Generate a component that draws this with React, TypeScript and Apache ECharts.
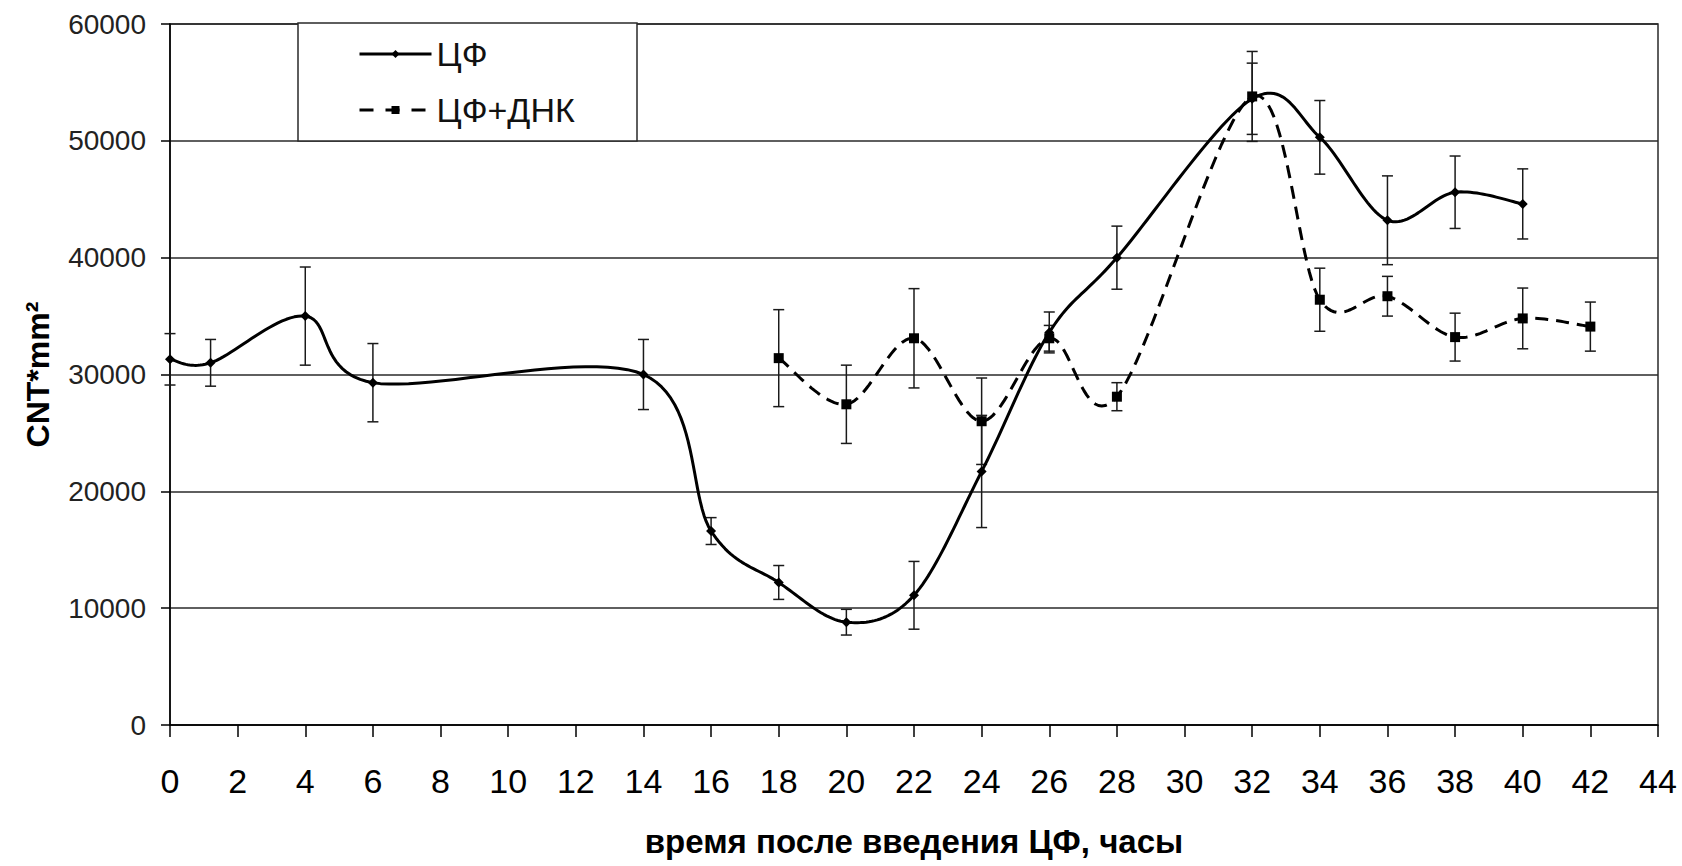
import React, { useEffect, useRef } from "react";
import * as echarts from "echarts";

// ---- Data ----
const hoursCF = [0, 1.2, 4, 6, 14, 16, 18, 20, 22, 24, 26, 28, 32, 34, 36, 38, 40];
const valuesCF = [31300, 31000, 35000, 29300, 30000, 16600, 12200, 8800, 11100, 21700, 33600, 40000, 53600, 50300, 43200, 45600, 44600];
const errorsCF = [2200, 2000, 4200, 3350, 3000, 1150, 1450, 1100, 2900, 4800, 1750, 2700, 3050, 3150, 3800, 3100, 3000];

const hoursDNK = [18, 20, 22, 24, 26, 28, 32, 34, 36, 38, 40, 42];
const valuesDNK = [31400, 27450, 33100, 26000, 33100, 28100, 53800, 36400, 36700, 33200, 34800, 34100];
const errorsDNK = [4150, 3350, 4250, 3700, 1100, 1200, 3850, 2700, 1700, 2050, 2600, 2100];

const seriesNames = ["ЦФ", "ЦФ+ДНК"];
const xTitle = "время после введения ЦФ, часы";
const yTitle = "CNT*mm²";

const FONT = "'Liberation Sans', Arial, sans-serif";
const DASH = [13, 8];

function errorBarSeries(name: string, hours: number[], values: number[], errors: number[]) {
  return {
    name,
    type: "custom",
    silent: true,
    z: 1,
    data: hours.map((h, i) => [h, values[i] - errors[i], values[i] + errors[i]]),
    encode: { x: 0, y: [1, 2] },
    renderItem: (_params: any, api: any) => {
      const x = api.value(0);
      const lo = api.coord([x, api.value(1)]);
      const hi = api.coord([x, api.value(2)]);
      const w = 5.5;
      const style = { stroke: "#1a1a1a", lineWidth: 1.5 };
      return {
        type: "group",
        children: [
          { type: "line", shape: { x1: lo[0], y1: lo[1], x2: hi[0], y2: hi[1] }, style },
          { type: "line", shape: { x1: lo[0] - w, y1: lo[1], x2: lo[0] + w, y2: lo[1] }, style },
          { type: "line", shape: { x1: hi[0] - w, y1: hi[1], x2: hi[0] + w, y2: hi[1] }, style },
        ],
      };
    },
  };
}

// Spreadsheet-style smoothed line (Catmull-Rom Bezier through the data points,
// positions taken from the axes via api.coord)
function curveSeries(name: string, hours: number[], values: number[], dash: number[] | null) {
  return {
    name,
    type: "custom",
    silent: true,
    z: 3,
    data: hours.map((h, i) => [h, values[i]]),
    encode: { x: 0, y: 1 },
    renderItem: (params: any, api: any) => {
      if (params.dataIndex !== 0) return null;
      const pts = hours.map((h, i) => api.coord([h, values[i]]));
      const n = pts.length;
      const out: number[][] = [];
      for (let i = 0; i < n - 1; i++) {
        const p0 = pts[i - 1] || pts[i];
        const p1 = pts[i];
        const p2 = pts[i + 1];
        const p3 = pts[i + 2] || pts[i + 1];
        const c1 = [p1[0] + (p2[0] - p0[0]) / 6, p1[1] + (p2[1] - p0[1]) / 6];
        const c2 = [p2[0] - (p3[0] - p1[0]) / 6, p2[1] - (p3[1] - p1[1]) / 6];
        const steps = 24;
        for (let s = i === 0 ? 0 : 1; s <= steps; s++) {
          const t = s / steps;
          const u = 1 - t;
          const x = u * u * u * p1[0] + 3 * u * u * t * c1[0] + 3 * u * t * t * c2[0] + t * t * t * p2[0];
          const y = u * u * u * p1[1] + 3 * u * u * t * c1[1] + 3 * u * t * t * c2[1] + t * t * t * p2[1];
          out.push([x, y]);
        }
      }
      return {
        type: "polyline",
        shape: { points: out },
        style: { stroke: "#000", lineWidth: 3, fill: "none", lineDash: dash || undefined, lineJoin: "round" },
      };
    },
  };
}

export default function App() {
  const ref = useRef<HTMLDivElement>(null);

  useEffect(() => {
    const chart = echarts.init(ref.current!, null, { renderer: "svg" });
    chart.setOption({
      animation: false,
      backgroundColor: "#ffffff",
      textStyle: { fontFamily: FONT },
      grid: {
        left: 170,
        right: 24,
        top: 24,
        bottom: 141,
        containLabel: false,
        outerBoundsMode: "none",
        show: true,
        borderColor: "#2a2a2a",
        borderWidth: 1.5,
        backgroundColor: "transparent",
      },
      graphic: [
        {
          type: "rect",
          z: 5,
          shape: { x: 298, y: 23, width: 339, height: 118 },
          style: { fill: "#ffffff", stroke: "#2a2a2a", lineWidth: 1.5 },
        },
      ],
      legend: {
        data: [
          { name: seriesNames[0], lineStyle: { color: "#000", width: 3, opacity: 1, type: "solid" } },
          { name: seriesNames[1], lineStyle: { color: "#000", width: 3, opacity: 1, type: [14, 12] } },
        ],
        orient: "vertical",
        left: 358,
        top: 37,
        itemWidth: 72,
        itemHeight: 10,
        itemGap: 22,
        padding: 0,
        z: 10,
        textStyle: { fontSize: 34, color: "#111", fontFamily: FONT, lineHeight: 34 },
      },
      xAxis: {
        type: "value",
        min: 0,
        max: 44,
        interval: 2,
        name: xTitle,
        nameLocation: "middle",
        nameGap: 100,
        nameTextStyle: { fontSize: 33, fontWeight: "bold", color: "#000", fontFamily: FONT },
        axisLine: { show: true, onZero: false, lineStyle: { color: "#000", width: 1.5 } },
        axisTick: { show: true, length: 12, lineStyle: { color: "#000", width: 1.5 } },
        axisLabel: { fontSize: 34, color: "#000", margin: 39, fontFamily: FONT },
        splitLine: { show: false },
      },
      yAxis: {
        type: "value",
        min: 0,
        max: 60000,
        interval: 10000,
        name: yTitle,
        nameLocation: "middle",
        nameGap: 116,
        nameTextStyle: { fontSize: 32, fontWeight: "bold", color: "#000", fontFamily: FONT },
        axisLine: { show: true, onZero: false, lineStyle: { color: "#000", width: 1.5 } },
        axisTick: { show: true, length: 9, lineStyle: { color: "#000", width: 1.5 } },
        axisLabel: {
          fontSize: 28,
          color: "#222",
          margin: 24,
          fontFamily: FONT,
          formatter: (v: number) => String(v),
        },
        splitLine: { show: true, lineStyle: { color: "#2a2a2a", width: 1.5 } },
      },
      series: [
        errorBarSeries("errCF", hoursCF, valuesCF, errorsCF),
        errorBarSeries("errDNK", hoursDNK, valuesDNK, errorsDNK),
        curveSeries("curveCF", hoursCF, valuesCF, null),
        curveSeries("curveDNK", hoursDNK, valuesDNK, DASH),
        {
          name: seriesNames[0],
          type: "line",
          z: 4,
          symbol: "diamond",
          symbolSize: 10,
          data: hoursCF.map((h, i) => [h, valuesCF[i]]),
          lineStyle: { color: "#000", width: 3, opacity: 0 },
          itemStyle: { color: "#000" },
        },
        {
          name: seriesNames[1],
          type: "line",
          z: 5,
          symbol: "rect",
          symbolSize: 10,
          data: hoursDNK.map((h, i) => [h, valuesDNK[i]]),
          lineStyle: { color: "#000", width: 3, opacity: 0, type: DASH },
          itemStyle: { color: "#000" },
        },
      ],
    });
    return () => chart.dispose();
  }, []);

  return (
    <div
      ref={ref}
      style={{ position: "fixed", left: 0, top: 0, width: 1682, height: 866, background: "#fff" }}
    />
  );
}
